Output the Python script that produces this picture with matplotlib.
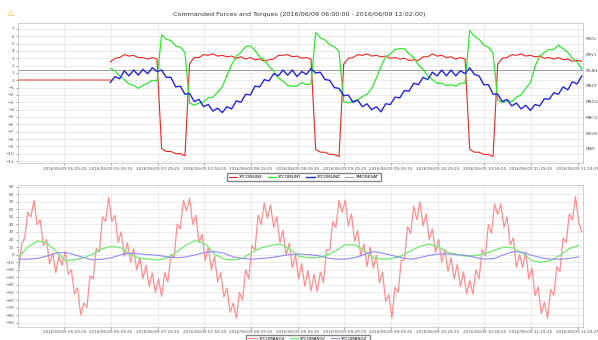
import matplotlib
matplotlib.use("Agg")
import matplotlib.pyplot as plt
import matplotlib.dates as mdates
import pandas as pd

DAY = "2016-06-09"
title = "Commanded Forces and Torques (2016/06/09 06:00:00 - 2016/06/09 12:02:00)"

tick_times = ["06:29:25", "06:59:25", "07:29:25", "07:59:25", "08:29:25", "08:59:25",
              "09:29:25", "09:59:25", "10:29:25", "10:59:25", "11:29:25", "11:59:25"]

# upper panel: samples every 3 min starting 06:59
lin_start = "06:59"
lin_step = "3min"
linx = [2.5, 3.0, 3.1, 3.5, 3.3, 3.4, 3.1, 3.1, 2.9, 3.1, 2.9,
        -9.3, -9.7, -9.7, -10.0, -10.0, -10.3,
        2.3, 3.1, 3.1, 3.5, 3.4, 3.6, 3.3, 3.4, 3.2, 3.3, 3.0, 3.2, 2.9, 3.1, 2.8, 2.9, 2.6, 2.8,
        2.9, 3.4, 3.4, 3.5, 3.2, 3.3, 3.0, 3.1, 2.9,
        -9.4, -9.8, -9.8, -10.1, -10.1, -10.4,
        2.2, 3.0, 3.1, 3.5, 3.4, 3.6, 3.3, 3.4, 3.2, 3.3, 3.0, 3.1, 2.9, 3.0, 2.7, 2.8, 2.7, 3.2,
        3.2, 3.6, 3.3, 3.4, 3.1, 3.2, 2.9, 3.1, 2.9,
        -9.4, -9.8, -9.8, -10.1, -10.1, -10.4,
        2.2, 3.0, 3.1, 3.5, 3.4, 3.6, 3.3, 3.4, 3.2, 3.3, 3.0, 3.1, 2.9, 3.1, 2.8, 2.9, 2.6, 2.7, 2.6]
liny = [1.6, 1.3, 0.6, 0.1, -0.5, -0.7, -1.1, -0.7, -0.4, 0.0, -0.1,
        6.2, 5.6, 5.4, 4.7, 4.5, 3.8,
        -3.1, -3.4, -3.1, -2.9, -2.4, -2.3, -1.6, -0.9, 0.7, 2.1, 3.3, 3.8, 4.6, 4.7, 4.1, 3.2,
        2.8, 1.9, 1.3, 0.3, -0.1, -0.7, -0.8, -0.8, -0.3, -0.6, -0.5,
        6.5, 5.8, 5.5, 4.8, 4.6, 3.9,
        -2.9, -3.1, -2.8, -2.7, -2.2, -1.9, -1.1, 0.3, 1.9, 3.2, 3.6, 4.2, 4.3, 4.3, 3.6, 3.1,
        2.1, 1.5, 0.6, 0.1, -0.4, -0.4, -0.7, -0.6, -0.8, -0.4, -0.4,
        6.8, 6.0, 5.6, 4.8, 4.5, 3.7,
        -2.7, -3.0, -2.8, -2.9, -2.3, -2.0, -1.1, -0.3, 1.9, 3.3, 3.8, 4.2, 4.2, 4.8, 4.3, 3.8,
        3.0, 2.5, 1.5]
linz = [-0.3, 0.5, 0.2, 1.3, 0.6, 1.4, 0.7, 1.5, 0.9, 1.7, 1.2, 1.4, 0.4, 0.4, -0.9, -0.8,
        -1.9, -1.8, -2.9, -2.6, -3.6, -3.3, -4.2, -3.8, -4.4, -3.6, -3.9, -2.8, -3.0, -1.9,
        -2.0, -0.8, -0.9, 0.1, -0.1, 0.9, 0.6, 1.4, 0.7, 1.4, 0.5, 1.2, 0.8, 1.6,
        1.0, 1.1, 0.1, 0.0, -1.0, -1.1, -2.1, -2.0, -3.0, -2.7, -3.6, -3.2, -4.0, -3.6, -4.3,
        -3.2, -3.3, -2.3, -2.4, -1.4, -1.5, -0.4, -0.6, 0.4, 0.1, 1.1, 0.6, 1.4, 0.6, 1.4,
        0.6, 1.3, 0.9,
        1.7, 0.8, 0.6, -0.6, -0.6, -1.9, -1.9, -2.9, -2.6, -3.5, -3.1, -3.9, -3.4, -4.1, -3.3,
        -3.5, -2.5, -2.6, -1.7, -1.9, -0.9, -1.3, -0.2, -0.5, 0.6]
idle_times = ["06:00", "06:59"]
idle_values = [0, 0]

modes = ["MJNT", "MDGS", "MACQ", "MNDG", "MNDF", "MCAN", "MSV1", "MSOL"]
mode_times = ["06:00", "12:02"]
mode_values = ["MCAN", "MCAN"]

# lower panel
angx_start = "06:00"
angx_step = "2min"
angx = [-24, 14, 22, 56, 50, 72, 40, 46, 12, 20, -12, 2, -24, -2, -14, 4, -26, -20, -52, -44,
        -80, -64, -70, -28, -32, 8, 4, 50, 44, 76, 44, 52, 16, 30, -2, 16, -10, 8, -20, -4,
        -32, -14, -42, -24, -50, -32, -55, -24, -36, 0, -4, 40, 34, 72, 58, 74, 40, 52, 16, 27,
        -8, 10, -20, -2, -36, -24, -56, -44, -76, -64, -84, -50, -60, -20, -32, 12, 6, 52, 40, 68,
        48, 66, 36, 50, 16, 32, 0, 15, -17, 0, -32, -12, -42, -21, -48, -26, -49, -23, -37, 7,
        6, 44, 36, 72, 56, 72, 38, 54, 18, 32, -2, 14, -16, 10, -18, -1, -37, -23, -62, -53,
        -84, -43, -50, -8, -7, 37, 28, 64, 46, 70, 38, 54, 20, 34, 3, 20, -10, 7, -22, -4,
        -32, -13, -42, -23, -52, -34, -52, -20, -32, 7, -2, 40, 28, 67, 53, 67, 36, 50, 13, 22,
        -17, 0, -17, 4, -32, -18, -54, -43, -78, -63, -84, -46, -54, -16, -22, 22, 16, 54, 46, 77,
        43, 30]
ang_yz_start = "06:00"
ang_yz_step = "6min"
angy = [-3, 10, 18, 16, 5, -8, -7, -4, 1, 8, 11, 9, 0, -5, -6, -7, -4, 4, 13, 19, 14, 1, -6,
        -7, -5, 3, 9, 12, 14, 8, -2, -4, -4, -1, 5, 13, 13, 6, -4, -6, -5, -2, 5, 11, 14, 10,
        3, 0, -2, -1, 1, 6, 10, 9, 2, -8, -10, -8, -1, 8, 12]
angz = [-6, -6, -5, -2, 2, 3, 0, -4, -7, -6, -4, 0, 2, 1, 0, -1, -3, -4, -3, 0, 3, 4, 2,
        -3, -5, -6, -5, -4, -2, 0, 1, 0, -1, -4, -6, -6, -4, 0, 4, 2, -1, -4, -6, -4, -1, 1,
        1, 0, -1, -4, -6, -5, 0, 4, 3, -1, -4, -6, -6, -5, -3]


def t(hhmm):
    return pd.Timestamp(f"{DAY} {hhmm}")


def grid(start, step, values):
    return pd.date_range(t(start), periods=len(values), freq=step)


RED, GREEN, BLUE, GREY = "#e8261f", "#2fe62f", "#2424dc", "#9a9a9a"
TXT = "#555555"
FS = 3.0

fig = plt.figure(figsize=(5.98, 3.4), dpi=100)
ax1 = fig.add_axes([0.030, 0.5206, 0.945, 0.412])
ax2 = fig.add_axes([0.030, 0.0397, 0.945, 0.416])

ticks = [t(s) for s in tick_times]
xlim = (t("05:59:40"), t("12:02:50"))

for ax in (ax1, ax2):
    ax.set_xlim(xlim)
    ax.set_xticks(ticks)
    ax.xaxis.set_major_formatter(mdates.DateFormatter("%Y/%m/%d %H:%M:%S"))
    ax.grid(True, color="#e4e4e4", lw=0.5)
    ax.set_axisbelow(True)
    ax.tick_params(labelsize=FS, colors=TXT, length=1.2, width=0.4, pad=1.5)
    for s in ax.spines.values():
        s.set_color("#c8c8c8")
        s.set_linewidth(0.6)

# upper panel
ylo, yhi = -11.27, 7.82
ax1.set_ylim(ylo, yhi)
ax1.set_yticks(range(-11, 8))
tl = grid(lin_start, lin_step, linx)
ax1.plot([t(s) for s in idle_times], idle_values, color="#f08a8a", lw=1.3, zorder=3)
ax1.plot(tl, linx, color=RED, lw=0.8, zorder=3, label="XTCOMLINX")
ax1.plot(tl, liny, color=GREEN, lw=0.9, zorder=3, label="XTCOMLINY")
ax1.plot(tl, linz, color=BLUE, lw=1.0, zorder=4, label="XTCOMLINZ")

axm = ax1.twinx()
base, gap = -9.35, 2.15
axm.set_ylim((ylo - base) / gap, (yhi - base) / gap)
axm.set_yticks(range(len(modes)))
axm.set_yticklabels(modes)
axm.tick_params(labelsize=FS, colors=TXT, length=0, pad=1.5)
for s in axm.spines.values():
    s.set_visible(False)
mode_idx = [modes.index(m) for m in mode_values]
axm.plot([t(s) for s in mode_times], mode_idx, color=GREY, lw=0.7, zorder=1, label="XMODESAT")
ax1.set_zorder(axm.get_zorder() + 1)
ax1.patch.set_visible(False)

h1, l1 = ax1.get_legend_handles_labels()
hm, lm = axm.get_legend_handles_labels()
fig.legend(h1 + hm, l1 + lm, loc="center", bbox_to_anchor=(0.508, 0.479), ncol=4,
           fontsize=FS, frameon=True, fancybox=False, edgecolor="#666666",
           handlelength=2.0, handletextpad=0.5, columnspacing=1.1, borderpad=0.5)

fig.text(0.5, 0.958, title, ha="center", va="center", fontsize=4.6, color="#333333")
fig.text(0.018, 0.96, "\u26a0", ha="center", va="center", fontsize=6, color="#f0b020")

# lower panel
ax2.set_ylim(-95, 92)
ax2.set_yticks(range(-90, 91, 10))
ax2.plot(grid(angx_start, angx_step, angx), angx, color="#ff7b7b", lw=0.9, alpha=0.85,
         label="XTCOMANGX")
ax2.plot(grid(ang_yz_start, ang_yz_step, angy), angy, color="#7ce87c", lw=1.0,
         label="XTCOMANGY")
ax2.plot(grid(ang_yz_start, ang_yz_step, angz), angz, color="#8c8cf4", lw=0.8,
         label="XTCOMANGZ")
h2, l2 = ax2.get_legend_handles_labels()
fig.legend(h2, l2, loc="upper center", bbox_to_anchor=(0.515, 0.022), ncol=3,
           fontsize=FS, frameon=True, fancybox=False, edgecolor="#666666",
           handlelength=2.0, handletextpad=0.5, columnspacing=1.1, borderpad=0.5)

fig.savefig("out.png", dpi=100)
